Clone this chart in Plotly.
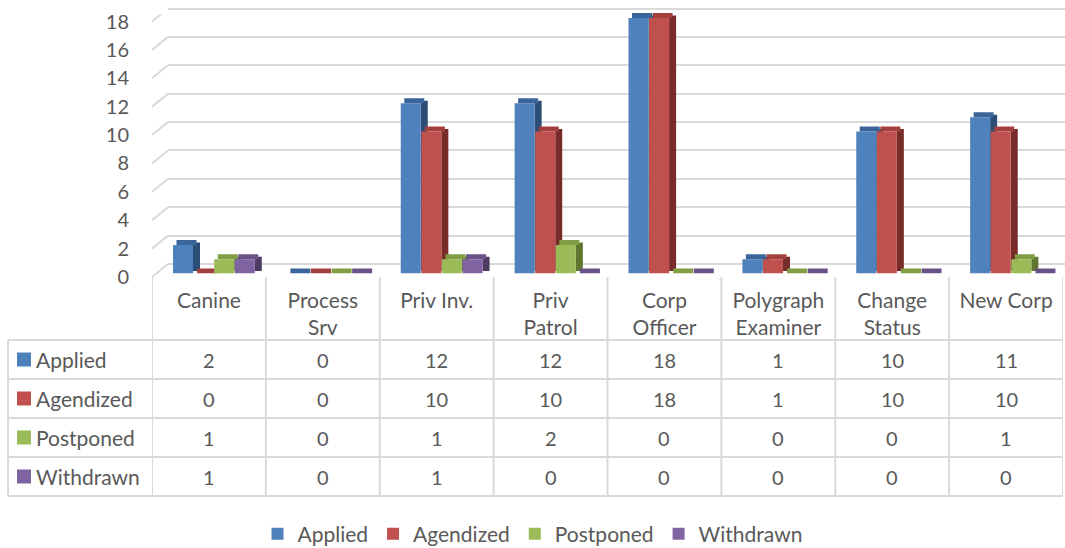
import plotly.graph_objects as go

W, H = 1065, 548

categories = ["Canine", "Process<br>Srv", "Priv Inv.", "Priv<br>Patrol", "Corp<br>Officer",
              "Polygraph<br>Examiner", "Change<br>Status", "New Corp"]
series_names = ["Applied", "Agendized", "Postponed", "Withdrawn"]
applied = [2, 0, 12, 12, 18, 1, 10, 11]
agendized = [0, 0, 10, 10, 18, 1, 10, 10]
postponed = [1, 0, 1, 2, 0, 0, 0, 1]
withdrawn = [1, 0, 1, 0, 0, 0, 0, 0]
series_values = [applied, agendized, postponed, withdrawn]

# front, top, side shades (Office 2010 palette)
COLORS = [
    ("#4F81BD", "#3A659A", "#2C4D75"),
    ("#C0504D", "#A33F3C", "#772C2A"),
    ("#9BBB59", "#819E44", "#5F7530"),
    ("#8064A2", "#6A5288", "#4D3B62"),
]
TXT = "#595959"
GRID = "#D9D9D9"
FONT = "Lato"

# pixel geometry
X_FRONT, X_BACK, X_RIGHT = 152, 168, 1063
S = (273.5 - 18) / 18          # px per unit
BAR_Y0, GRID_Y0, LBL_Y0 = 273.5, 264, 277


def px(x):
    return x / W


def py(y):
    return 1 - y / H


def ydom(y0, lo, hi):
    return [py(y0 - S * lo), py(y0 - S * hi)]


n = len(categories)
cat_px = (X_RIGHT - X_FRONT) / n
bw = 20 / cat_px
step = 20.6 / cat_px
first = (21 - cat_px / 2) / cat_px
dx = 7 / cat_px
dy = 5 / S

fig = go.Figure()

# back wall grid (first subplot so it sits under the bars)
fig.add_trace(go.Scatter(x=[None], y=[None], xaxis="x", yaxis="y",
                         showlegend=False, hoverinfo="skip"))

xs = list(range(n))
for k, (name, vals) in enumerate(zip(series_names, series_values)):
    front, top, side = COLORS[k]
    off = first + k * step
    fig.add_trace(go.Bar(x=xs, y=vals, base=dy * 0.5, offset=off + bw, width=dx,
                         marker=dict(color=side, line=dict(width=0)),
                         xaxis="x2", yaxis="y2", showlegend=False, hoverinfo="skip"))
    fig.add_trace(go.Bar(x=xs, y=[dy] * n, base=vals, offset=off + dx * 0.5, width=bw,
                         marker=dict(color=top, line=dict(width=0)),
                         xaxis="x2", yaxis="y2", showlegend=False, hoverinfo="skip"))
    fig.add_trace(go.Bar(x=xs, y=vals, offset=off, width=bw, name=name,
                         marker=dict(color=front, line=dict(width=0)),
                         xaxis="x2", yaxis="y2"))

# slanted wall edges joining front labels to back gridlines
ticks = list(range(0, 19, 2))
sx, sy = [], []
for v in ticks:
    sx += [0, 1, None]
    sy += [v, v + (LBL_Y0 - GRID_Y0) / S, None]
fig.add_trace(go.Scatter(x=sx, y=sy, mode="lines", line=dict(color=GRID, width=2),
                         xaxis="x3", yaxis="y3", showlegend=False, hoverinfo="skip"))

# data table
row_top = [340, 379, 418, 457]
row_bot = 496
shapes = []
for y in row_top + [row_bot]:
    shapes.append(dict(type="line", xref="paper", yref="paper", x0=px(8), x1=px(X_RIGHT),
                       y0=py(y), y1=py(y), line=dict(color=GRID, width=2)))
shapes.append(dict(type="line", xref="paper", yref="paper", x0=px(8), x1=px(8),
                   y0=py(row_top[0]), y1=py(row_bot), line=dict(color=GRID, width=2)))
for i in range(n + 1):
    shapes.append(dict(type="line", xref="x2", yref="paper", x0=i - 0.5, x1=i - 0.5,
                       y0=py(LBL_Y0), y1=py(row_bot), line=dict(color=GRID, width=2)))

annotations = []
for r, (name, vals) in enumerate(zip(series_names, series_values)):
    yc = row_top[r] + 19.5
    shapes.append(dict(type="rect", xref="paper", yref="paper", x0=px(17), x1=px(31),
                       y0=py(yc + 7), y1=py(yc - 7), fillcolor=COLORS[r][0],
                       line=dict(width=0)))
    annotations.append(dict(text=name, x=px(34), y=py(yc), xref="paper", yref="paper",
                            xanchor="left", yanchor="middle", showarrow=False,
                            font=dict(family=FONT, size=21, color=TXT)))
    for i, v in enumerate(vals):
        annotations.append(dict(text=str(v), x=i, y=py(yc), xref="x2", yref="paper",
                                xanchor="center", yanchor="middle", showarrow=False,
                                font=dict(family=FONT, size=20, color=TXT)))

noauto = dict(automargin=False)
fig.update_layout(
    width=W, height=H,
    margin=dict(l=0, r=0, t=0, b=0, autoexpand=False),
    paper_bgcolor="white", plot_bgcolor="rgba(0,0,0,0)",
    barmode="overlay",
    font=dict(family=FONT, size=20, color=TXT),
    shapes=shapes, annotations=annotations,
    xaxis=dict(domain=[px(X_BACK), 1], range=[0, 1], visible=False, anchor="y", **noauto),
    yaxis=dict(domain=ydom(GRID_Y0, -0.5, 18.5), range=[-0.5, 18.5], anchor="x",
               tickvals=ticks, showticklabels=False, showgrid=True,
               gridcolor=GRID, gridwidth=2, zeroline=False, showline=False, **noauto),
    xaxis2=dict(domain=[px(X_FRONT), px(X_RIGHT)], range=[-0.5, n - 0.5], anchor="y2",
                tickvals=xs, ticktext=categories, showgrid=False, zeroline=False,
                showline=False, ticks="outside", ticklen=8, tickcolor="rgba(0,0,0,0)",
                tickfont=dict(family=FONT, size=21, color=TXT), **noauto),
    yaxis2=dict(domain=ydom(BAR_Y0, 0, 19), range=[0, 19], anchor="x2",
                visible=False, **noauto),
    xaxis3=dict(domain=[px(X_FRONT), px(X_BACK)], range=[0, 1], anchor="y3",
                visible=False, **noauto),
    yaxis3=dict(domain=ydom(LBL_Y0, -0.5, 18.5), range=[-0.5, 18.5], anchor="x3",
                tickvals=ticks, showgrid=False, zeroline=False, showline=False,
                ticks="outside", ticklen=18, tickcolor="rgba(0,0,0,0)",
                tickfont=dict(family=FONT, size=20, color=TXT), **noauto),
    legend=dict(orientation="h", x=0.5, xanchor="center", y=py(534), yanchor="middle",
                font=dict(family=FONT, size=21, color=TXT), itemwidth=30,
                traceorder="normal"),
    showlegend=True,
)

# page body has an 8px default margin; drop it so the figure fills the window
fig.write_html("out.html", config={"displayModeBar": False},
               post_script="document.body.style.margin='0';")
